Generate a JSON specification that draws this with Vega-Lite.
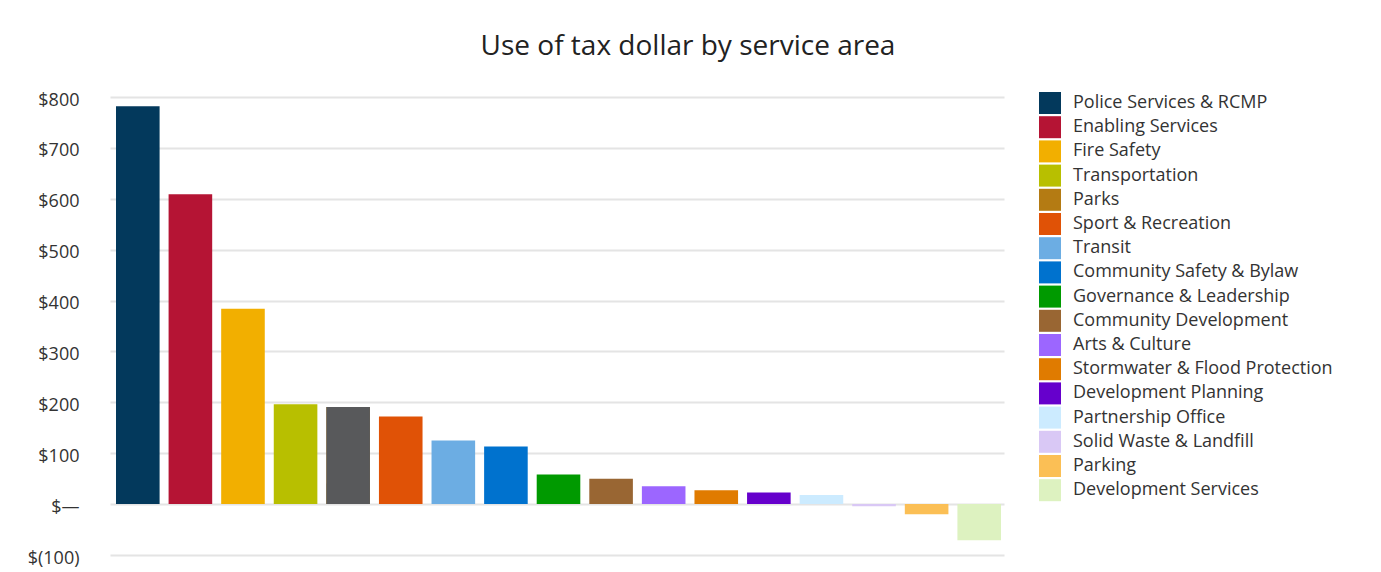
{
  "$schema": "https://vega.github.io/schema/vega-lite/v6.json",
  "width": 894,
  "height": 458,
  "autosize": {"type": "none"},
  "padding": {"left": 110, "top": 97, "right": 377, "bottom": 17},
  "background": "white",
  "config": {"view": {"stroke": null}},
  "title": {"text": "Use of tax dollar by service area", "fontSize": 28, "font": "Open Sans", "fontWeight": "normal", "color": "#222222", "anchor": "middle", "dx": 131, "offset": 30},
  "data": {"values": [
    {"service": "Police Services & RCMP", "value": 782},
    {"service": "Enabling Services", "value": 609},
    {"service": "Fire Safety", "value": 384},
    {"service": "Transportation", "value": 196},
    {"service": "Parks", "value": 191},
    {"service": "Sport & Recreation", "value": 172},
    {"service": "Transit", "value": 125},
    {"service": "Community Safety & Bylaw", "value": 113},
    {"service": "Governance & Leadership", "value": 58},
    {"service": "Community Development", "value": 50},
    {"service": "Arts & Culture", "value": 35},
    {"service": "Stormwater & Flood Protection", "value": 27},
    {"service": "Development Planning", "value": 23},
    {"service": "Partnership Office", "value": 18},
    {"service": "Solid Waste & Landfill", "value": -4},
    {"service": "Parking", "value": -20},
    {"service": "Development Services", "value": -71}
  ]},
  "encoding": {
    "x": {"field": "service", "type": "nominal", "sort": null, "axis": null, "scale": {"paddingInner": 0.171, "paddingOuter": 0.0856, "align": 0.667}},
    "y": {"field": "value", "type": "quantitative", "scale": {"domain": [-100, 800], "nice": false, "zero": true},
      "axis": {"title": null, "values": [-100, 0, 100, 200, 300, 400, 500, 600, 700, 800],
        "labelExpr": "datum.value == 0 ? '$\u2014' : (datum.value < 0 ? '$(' + format(-datum.value, ',') + ')' : '$' + format(datum.value, ','))",
        "domain": false, "ticks": false, "labelPadding": 31, "labelOffset": 3, "gridColor": "#E4E4E4", "gridWidth": 2,
        "labelFontSize": 18, "labelFont": "Open Sans", "labelColor": "#333333"}}
  },
  "layer": [
    {
      "mark": {"type": "bar"},
      "encoding": {
        "color": {"field": "service", "type": "nominal",
          "scale": {
            "domain": ["Police Services & RCMP", "Enabling Services", "Fire Safety", "Transportation", "Parks", "Sport & Recreation", "Transit", "Community Safety & Bylaw", "Governance & Leadership", "Community Development", "Arts & Culture", "Stormwater & Flood Protection", "Development Planning", "Partnership Office", "Solid Waste & Landfill", "Parking", "Development Services"],
            "range": ["#03395C", "#B51434", "#F2AF00", "#B8BF00", "#B47B13", "#E05206", "#6CADE3", "#0072CE", "#009A00", "#996633", "#9C66FF", "#E07B00", "#6600CC", "#CCEBFF", "#D9C8F5", "#FBBF55", "#DDF2C0"]
          },
          "legend": {"orient": "none", "legendX": 929, "legendY": -5, "title": null, "symbolType": "square", "symbolSize": 484, "symbolStrokeWidth": 0, "symbolOpacity": 1, "labelFontSize": 18, "labelFont": "Open Sans", "labelColor": "#333333", "rowPadding": 2.2, "labelOffset": 12, "labelLimit": 400}
        }
      }
    },
    {
      "transform": [{"filter": "datum.service === 'Parks'"}],
      "mark": {"type": "bar", "color": "#58595B"},
      "encoding": {}
    }
  ]
}
